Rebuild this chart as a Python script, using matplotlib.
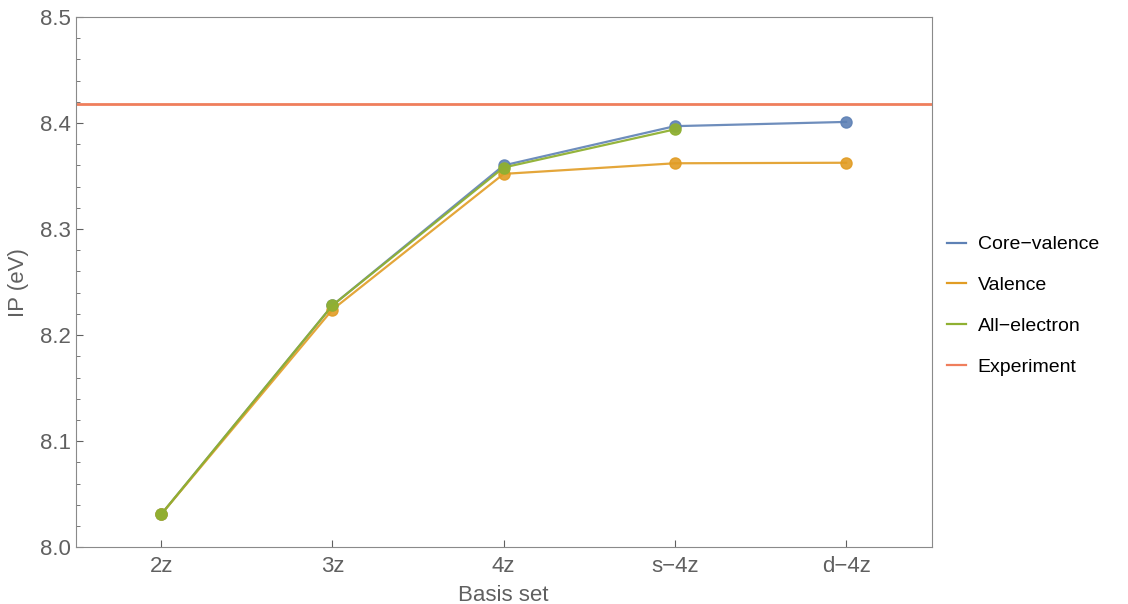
import matplotlib.pyplot as plt
from matplotlib.lines import Line2D
from matplotlib.ticker import MultipleLocator

plt.rcParams["font.family"] = ["Liberation Sans", "DejaVu Sans"]

basis = ["2z", "3z", "4z", "s\u22124z", "d\u22124z"]
core_valence = [8.031, 8.228, 8.360, 8.397, 8.401]
valence = [8.031, 8.224, 8.352, 8.362, 8.3625]
all_electron = [8.031, 8.228, 8.358, 8.394]
experiment = 8.4175
names = ["Core\u2212valence", "Valence", "All\u2212electron", "Experiment"]

blue = "#5E81B5"
orange = "#E19C24"
green = "#8FB032"
red = "#EF7E5C"
gray = "#606060"

fig, ax = plt.subplots(figsize=(11.28, 6.04), dpi=100)
fig.subplots_adjust(left=0.067, right=0.826, top=0.972, bottom=0.094)

x = list(range(len(basis)))
ax.plot(x, core_valence, color=blue, lw=1.6, marker="o", ms=8, alpha=0.9)
ax.plot(x, valence, color=orange, lw=1.6, marker="o", ms=8, alpha=0.9)
ax.plot(x[:len(all_electron)], all_electron, color=green, lw=1.6, marker="o", ms=8, alpha=0.95)
ax.axhline(experiment, color=red, lw=2)

ax.set_xlim(-0.5, 4.5)
ax.set_ylim(8.0, 8.5)
ax.set_xticks(x)
ax.set_xticklabels(basis)
ax.yaxis.set_major_locator(MultipleLocator(0.1))
ax.yaxis.set_minor_locator(MultipleLocator(0.02))
ax.yaxis.set_major_formatter(plt.FormatStrFormatter("%.1f"))

ax.tick_params(which="both", direction="in", colors=gray, labelsize=16, top=False, right=False)
ax.tick_params(which="major", length=5)
ax.tick_params(which="minor", length=3)
ax.tick_params(axis="x", pad=6)
for s in ax.spines.values():
    s.set_color("#8a8a8a")

ax.set_xlabel("Basis set", fontsize=16, color=gray, labelpad=6)
ax.set_ylabel("IP (eV)", fontsize=16, color=gray, labelpad=8)

# legend with plain line swatches
handles = [Line2D([], [], color=c, lw=1.6) for c in (blue, orange, green, red)]
ax.legend(handles, names, loc="center left", bbox_to_anchor=(0.997, 0.455), frameon=False,
          fontsize=14, handlelength=1.0, handletextpad=0.6, labelspacing=1.2)

plt.savefig("out.png")
